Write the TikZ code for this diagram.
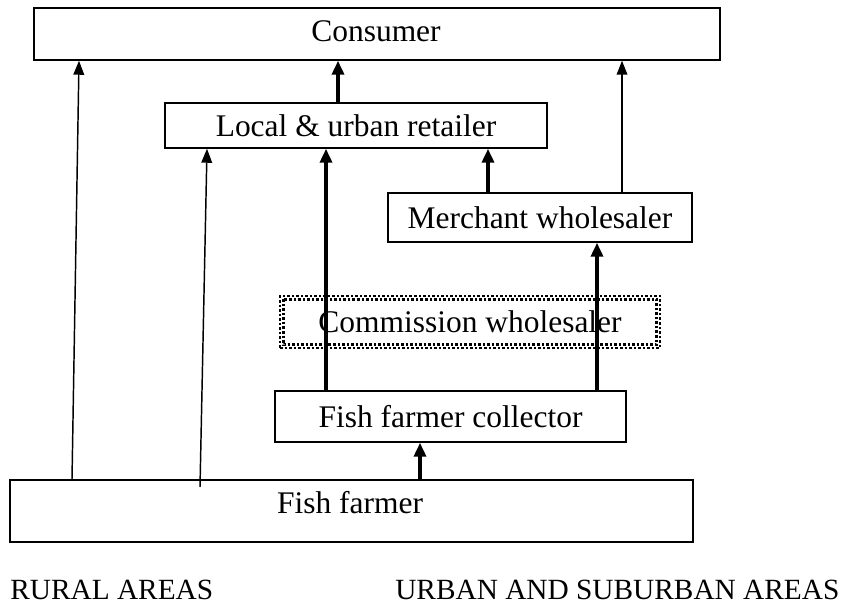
\documentclass[tikz,border=0pt]{standalone}
\usepackage{fontspec}
\setmainfont{Liberation Serif}
\usetikzlibrary{arrows.meta}
\begin{document}
\begin{tikzpicture}[x=0.75pt,y=-0.75pt,
  box/.style={draw,line width=1.1pt,rectangle,inner sep=0pt,font=\fontsize{23.6}{28}\selectfont},
  txt/.style={font=\fontsize{23.6}{28}\selectfont},
  lbl/.style={inner sep=0pt,anchor=west,font=\fontsize{22}{26}\selectfont},
  dotline/.style={line width=1.9pt,dash pattern=on 1.9pt off 1.5pt},
  thinarrow/.style={line width=1.1pt,-{Triangle[length=10.5pt,width=8pt]}},
  thickarrow/.style={line width=3pt,-{Triangle[length=10.5pt,width=9pt]}}]
\useasboundingbox (0,0) rectangle (841,606);
\node[box,minimum width=514.5pt,minimum height=39pt] (consumer) at (377,34) {};
\node[txt] (tconsumer) at (376,31) {Consumer};
\node[box,minimum width=286.5pt,minimum height=33.75pt] (retailer) at (356,125.5) {Local \& urban retailer};
\node[box,minimum width=228pt,minimum height=36.75pt] (merchant) at (540,217.5) {Merchant wholesaler};
\node[inner sep=0pt,minimum width=285pt,minimum height=39pt,draw,dotline] (commission) at (470,322) {};
\draw[dotline] ([xshift=3.4pt,yshift=-3.4pt]commission.north west) rectangle ([xshift=-3.4pt,yshift=3.4pt]commission.south east);
\node[txt] (tcommission) at (470,322) {Commission wholesaler};
\node[box,minimum width=263.25pt,minimum height=38.25pt] (collector) at (450.5,416.5) {Fish farmer collector};
\node[box,minimum width=512.25pt,minimum height=46.5pt] (farmer) at (351.5,511) {};
\node[txt] (tfarmer) at (350,503) {Fish farmer};
\node[lbl] (rural) at (10,590) {RURAL AREAS};
\node[lbl] (urban) at (395,590) {URBAN AND SUBURBAN AREAS};
% connectors
\draw[thinarrow] (72,0 |- farmer.north) -- (79,0 |- consumer.south);
\draw[thinarrow] (200,487) -- (207,0 |- retailer.south);
\draw[thickarrow] (326,0 |- collector.north) -- (326,0 |- retailer.south);
\draw[thickarrow] (338,0 |- retailer.north) -- (338,0 |- consumer.south);
\draw[thickarrow] (488,0 |- merchant.north) -- (488,0 |- retailer.south);
\draw[thinarrow] (622,0 |- merchant.north) -- (622,0 |- consumer.south);
\draw[thickarrow] (597,0 |- collector.north) -- (597,0 |- merchant.south);
\draw[thickarrow] (420,0 |- farmer.north) -- (420,0 |- collector.south);
\end{tikzpicture}
\end{document}
